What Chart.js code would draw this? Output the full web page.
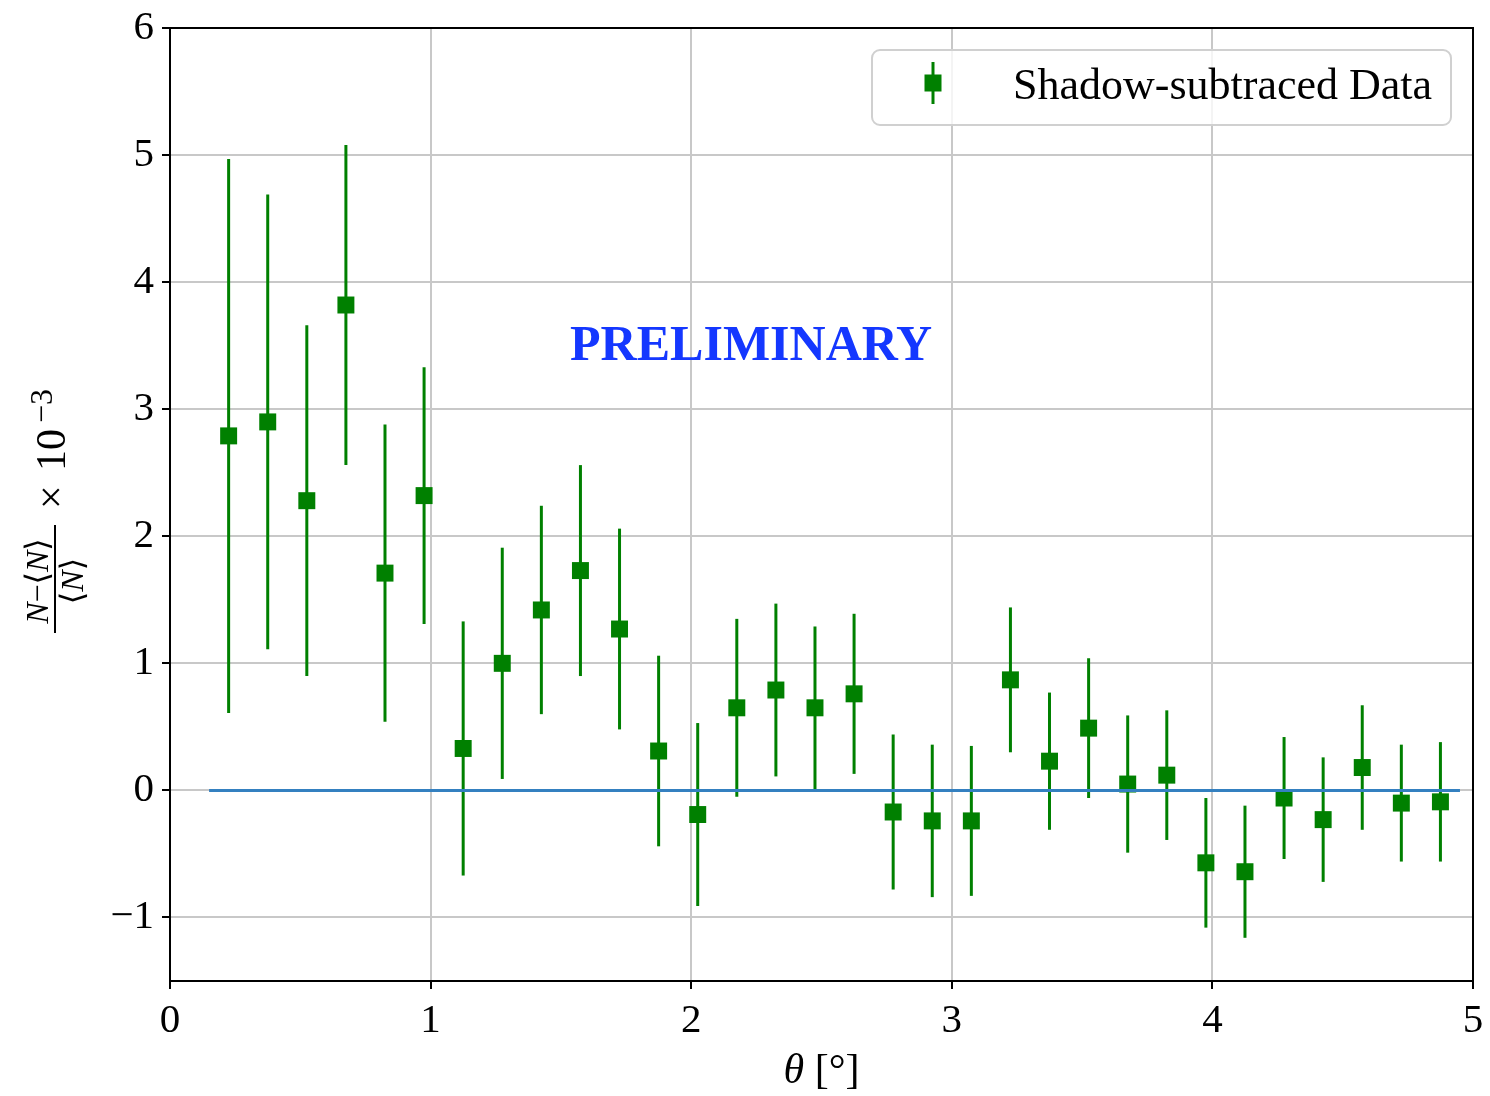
<!DOCTYPE html>
<html>
<head>
<meta charset="utf-8">
<title>Shadow-subtraced Data</title>
<script src="https://cdn.jsdelivr.net/npm/chart.js@4.4.1/dist/chart.umd.min.js"></script>
<style>
    html, body { margin: 0; padding: 0; background: #fff; }
    #wrap { width: 1490px; height: 1096px; }
</style>
</head>
<body>
<div id="wrap"><canvas id="chart" width="1490" height="1096"></canvas></div>
<script>
// data (theta in degrees, relative excess x 10^-3)
const theta = [0.225, 0.375, 0.525, 0.675, 0.825, 0.975, 1.125, 1.275, 1.425, 1.575,
               1.725, 1.875, 2.025, 2.175, 2.325, 2.475, 2.625, 2.775, 2.925, 3.075,
               3.225, 3.375, 3.525, 3.675, 3.825, 3.975, 4.125, 4.275, 4.425, 4.575,
               4.725, 4.875];
const values = [2.79, 2.90, 2.28, 3.82, 1.71, 2.32, 0.33, 1.00, 1.42, 1.73,
                1.27, 0.31, -0.19, 0.65, 0.79, 0.65, 0.76, -0.17, -0.24, -0.24,
                0.87, 0.23, 0.49, 0.05, 0.12, -0.57, -0.64, -0.06, -0.23, 0.18,
                -0.10, -0.09];
const errors = [2.18, 1.79, 1.38, 1.26, 1.17, 1.01, 1.00, 0.91, 0.82, 0.83,
                0.79, 0.75, 0.72, 0.70, 0.68, 0.64, 0.63, 0.61, 0.60, 0.59,
                0.57, 0.54, 0.55, 0.54, 0.51, 0.51, 0.52, 0.48, 0.49, 0.49,
                0.46, 0.47];
const zeroLineX = [0.15, 4.95];
const zeroLineY = [0, 0];
const xTicks = [0, 1, 2, 3, 4, 5];
const yTicks = [-1, 0, 1, 2, 3, 4, 5, 6];
const seriesLabel = "Shadow-subtraced Data";
const watermark = "PRELIMINARY";
const watermarkAt = { x: 2.23, y: 3.49 };

const SERIF = '"Liberation Serif", "DejaVu Serif", serif';
const GREEN = "#008000";

// draw a row of text pieces with different fonts, centred on x
function drawRuns(ctx, runs, x, y) {
    let total = 0;
    runs.forEach(r => { ctx.font = r.font; total += ctx.measureText(r.text).width; });
    let cx = x - total / 2;
    ctx.textAlign = "left";
    runs.forEach(r => {
        ctx.font = r.font;
        ctx.fillText(r.text, cx, y + (r.dy || 0));
        cx += ctx.measureText(r.text).width;
    });
}

const errorBars = {
    id: "errorBars",
    beforeDatasetsDraw(chart) {
        const ctx = chart.ctx;
        const xs = chart.scales.x, ys = chart.scales.y;
        ctx.save();
        ctx.strokeStyle = GREEN;
        ctx.lineWidth = 3;
        theta.forEach((t, i) => {
            const px = xs.getPixelForValue(t);
            ctx.beginPath();
            ctx.moveTo(px, ys.getPixelForValue(values[i] + errors[i]));
            ctx.lineTo(px, ys.getPixelForValue(values[i] - errors[i]));
            ctx.stroke();
        });
        const w = xs.getPixelForValue(watermarkAt.x);
        const h = ys.getPixelForValue(watermarkAt.y);
        ctx.fillStyle = "#1437ff";
        ctx.font = "bold 50px " + SERIF;
        ctx.textAlign = "center";
        ctx.textBaseline = "middle";
        ctx.fillText(watermark, w, h);
        ctx.restore();
    }
};

const decorations = {
    id: "decorations",
    afterDraw(chart) {
        const ctx = chart.ctx;
        const a = chart.chartArea;
        ctx.save();

        // top and right spines
        ctx.strokeStyle = "#000";
        ctx.lineWidth = 2;
        ctx.beginPath();
        ctx.moveTo(a.left, a.top);
        ctx.lineTo(a.right, a.top);
        ctx.lineTo(a.right, a.bottom);
        ctx.stroke();

        // legend
        const bx = a.right - 601, by = a.top + 22, bw = 579, bh = 75;
        ctx.beginPath();
        ctx.roundRect(bx, by, bw, bh, 8);
        ctx.fillStyle = "rgba(255,255,255,0.8)";
        ctx.fill();
        ctx.strokeStyle = "#d0d0d0";
        ctx.lineWidth = 2;
        ctx.stroke();
        const mx = bx + 61, my = by + 33;
        ctx.strokeStyle = GREEN;
        ctx.lineWidth = 3;
        ctx.beginPath();
        ctx.moveTo(mx, my - 21);
        ctx.lineTo(mx, my + 21);
        ctx.stroke();
        ctx.fillStyle = GREEN;
        ctx.fillRect(mx - 8.5, my - 8.5, 17, 17);
        ctx.fillStyle = "#000";
        ctx.font = "44px " + SERIF;
        ctx.textAlign = "left";
        ctx.textBaseline = "alphabetic";
        ctx.fillText(seriesLabel, bx + 141, by + 49);

        // x axis title
        ctx.fillStyle = "#000";
        drawRuns(ctx, [
            { text: "θ", font: "italic 42px " + SERIF },
            { text: " [°]", font: "42px " + SERIF }
        ], (a.left + a.right) / 2, 1083);

        // y axis title: (N - <N>)/<N> x 10^-3, rotated
        ctx.translate(55, 505);
        ctx.rotate(-Math.PI / 2);
        const it = "italic 32px " + SERIF, up = "32px " + SERIF;
        drawRuns(ctx, [
            { text: "N", font: it },
            { text: "−⟨", font: up },
            { text: "N", font: it },
            { text: "⟩", font: up }
        ], -76, -7);
        drawRuns(ctx, [
            { text: "⟨", font: up },
            { text: "N", font: it },
            { text: "⟩", font: up }
        ], -76, 28);
        ctx.fillRect(-128, -1, 108, 2);
        ctx.textAlign = "left";
        ctx.font = "42px " + SERIF;
        ctx.fillText("×", -4, 10);
        ctx.fillText("10", 34, 10);
        ctx.font = "32px " + SERIF;
        ctx.fillText("−3", 82, -3);
        ctx.restore();
    }
};

const tickFont = { family: SERIF, size: 41 };

new Chart(document.getElementById("chart"), {
    data: {
        datasets: [
            {
                type: "scatter",
                label: seriesLabel,
                data: theta.map((t, i) => ({ x: t, y: values[i] })),
                pointStyle: "rect",
                pointRadius: 12,
                pointHoverRadius: 12,
                borderWidth: 0,
                backgroundColor: GREEN,
                borderColor: GREEN,
                order: 2
            },
            {
                type: "line",
                data: zeroLineX.map((t, i) => ({ x: t, y: zeroLineY[i] })),
                borderColor: "#3480c0",
                borderWidth: 3,
                pointRadius: 0,
                fill: false,
                order: 1
            }
        ]
    },
    options: {
        responsive: false,
        animation: false,
        events: [],
        layout: { padding: { top: 28, right: 17, left: 0, bottom: 0 } },
        plugins: {
            legend: { display: false },
            tooltip: { enabled: false }
        },
        scales: {
            x: {
                type: "linear",
                min: 0,
                max: 5,
                afterBuildTicks: s => { s.ticks = xTicks.map(v => ({ value: v })); },
                afterFit: s => { s.height = 115; s.paddingLeft = 0; s.paddingRight = 0; },
                grid: { color: "#c8c8c8", lineWidth: 2, tickColor: "#000", tickLength: 8, tickWidth: 2 },
                border: { color: "#000", width: 2 },
                ticks: { font: tickFont, color: "#000", padding: 8, maxRotation: 0 }
            },
            y: {
                type: "linear",
                min: -1.5,
                max: 6,
                afterBuildTicks: s => { s.ticks = yTicks.map(v => ({ value: v })); },
                afterFit: s => { s.width = 170; s.paddingTop = 0; s.paddingBottom = 0; },
                grid: { color: "#c8c8c8", lineWidth: 2, tickColor: "#000", tickLength: 8, tickWidth: 2 },
                border: { color: "#000", width: 2 },
                ticks: {
                    font: tickFont,
                    color: "#000",
                    padding: 8,
                    callback: v => String(v).replace("-", "−")
                }
            }
        }
    },
    plugins: [errorBars, decorations]
});
</script>
</body>
</html>
